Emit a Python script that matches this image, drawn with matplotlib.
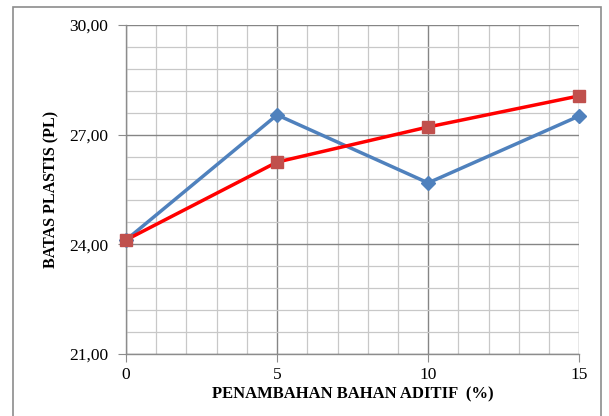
import matplotlib.pyplot as plt
from matplotlib.ticker import MultipleLocator, FuncFormatter
from matplotlib.patches import Rectangle

# data
aditif = [0, 5, 10, 15]
pl_blue = [24.12, 27.54, 25.68, 27.51]
pl_red = [24.12, 26.25, 27.21, 28.06]

plt.rcParams['font.family'] = ['Liberation Serif', 'DejaVu Serif']

fig = plt.figure(figsize=(6.09, 4.16), dpi=100)
ax = fig.add_axes([0.207, 0.149, 0.744, 0.791])

# outer frame of the chart
fig.patches.append(Rectangle((0.021, -0.05), 0.966, 1.033, transform=fig.transFigure,
                             fill=False, edgecolor='#8c8c8c', linewidth=1.2))

ax.plot(aditif, pl_blue, color='#4F81BD', linewidth=2.5, marker='D', markersize=7,
        markerfacecolor='#4F81BD', markeredgecolor='#4F81BD', zorder=3, clip_on=False)
ax.plot(aditif, pl_red, color='#FF0000', linewidth=2.5, marker='s', markersize=9,
        markerfacecolor='#C0504D', markeredgecolor='#C0504D', zorder=4, clip_on=False)

ax.set_xlim(0, 15)
ax.set_ylim(21, 30)
ax.xaxis.set_major_locator(MultipleLocator(5))
ax.xaxis.set_minor_locator(MultipleLocator(1))
ax.yaxis.set_major_locator(MultipleLocator(3))
ax.yaxis.set_minor_locator(MultipleLocator(0.6))
ax.yaxis.set_major_formatter(FuncFormatter(lambda v, p: f'{v:.2f}'.replace('.', ',')))

ax.grid(which='major', color='#858585', linewidth=1.0)
ax.grid(which='minor', color='#c8c8c8', linewidth=0.9)
ax.set_axisbelow(True)

for s in ['top', 'right']:
    ax.spines[s].set_visible(False)
for s in ['left', 'bottom']:
    ax.spines[s].set_color('#8c8c8c')
    ax.spines[s].set_linewidth(1.0)

ax.tick_params(which='major', length=6, color='#8c8c8c', labelsize=12.5)
ax.tick_params(axis='y', pad=7)
ax.tick_params(axis='x', pad=3)
ax.tick_params(which='minor', length=0)

ax.set_xlabel('PENAMBAHAN BAHAN ADITIF  (%)', fontsize=12, fontweight='bold', labelpad=3)
ax.set_ylabel('BATAS PLASTIS (PL)', fontsize=11.5, fontweight='bold', labelpad=7)

fig.savefig('out.png', dpi=100)
